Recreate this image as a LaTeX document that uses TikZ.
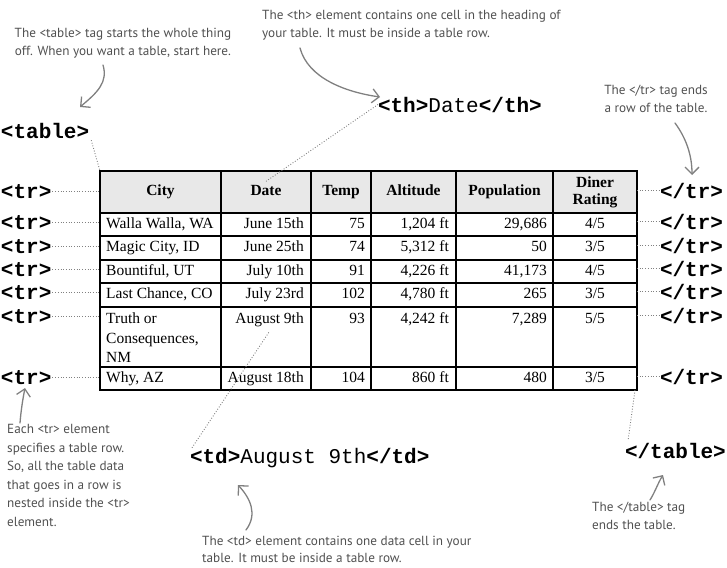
\documentclass[tikz,border=0pt]{standalone}
\usepackage{fontspec}
\setmainfont{Liberation Serif}
\newfontfamily\tagfont{Liberation Mono}
\newfontfamily\handfont{PT Sans}
\usetikzlibrary{arrows.meta}
\definecolor{handtext}{HTML}{505050}
\definecolor{arrowgray}{HTML}{808080}
\definecolor{headfill}{HTML}{E8E8E8}
\begin{document}
\begin{tikzpicture}[x=1pt,y=-1pt,
  tagl/.style={font=\tagfont\bfseries\fontsize{21}{21}\selectfont, inner sep=0pt, outer sep=0pt, anchor=base west},
  tagmix/.style={font=\tagfont\fontsize{21}{21}\selectfont, inner sep=0pt, outer sep=0pt, anchor=base west},
  note/.style={font=\handfont\fontsize{13.2}{17.5}\selectfont, text=handtext, inner sep=0pt, align=left},
  handarrow/.style={draw=arrowgray, line width=1.3pt, line cap=round, -{Straight Barb[length=7pt,width=14pt,line width=1.3pt]}},
  leader/.style={draw=gray, line width=0.9pt, dash pattern=on 0.9pt off 1.8pt},
  cell/.style={font=\fontsize{15.5}{19.5}\selectfont, inner sep=0pt, text height=10pt, text depth=3pt},
  head/.style={font=\bfseries\fontsize{15.5}{17}\selectfont, inner sep=0pt, text height=10pt, text depth=3pt},
  headml/.style={font=\bfseries\fontsize{15.5}{17}\selectfont, inner sep=0pt, align=center},
  grid/.style={line width=1.8pt, draw=black}
]
\useasboundingbox (0,0) rectangle (727,567);

% ---- table ----
\fill[headfill] (100,171) rectangle (637,213);
\foreach \yy in {213,236,260,283,307,367} \draw[grid] (100,\yy) -- (637,\yy);
\foreach \xx in {221,311,371,456,553} \draw[grid] (\xx,171) -- (\xx,390);
\node[grid, draw, minimum width=537pt, minimum height=219pt, inner sep=0pt, outer sep=0pt, anchor=north west] (tbl) at (100,171) {};

% header
\node[head] (hCity) at (160.5,192) {City};
\node[head] (hDate) at (266,192) {Date};
\node[head] (hTemp) at (341,192) {Temp};
\node[head] (hAlt) at (413.5,192) {Altitude};
\node[head] (hPop) at (504.5,192) {Population};
\node[headml] (hRate) at (595,192) {Diner\\Rating};

% rows
\node[cell, anchor=west] (c1) at (106,224.5) {Walla Walla, WA};
\node[cell, anchor=east] (d1) at (304,224.5) {June 15th};
\node[cell, anchor=east] (t1) at (365,224.5) {75};
\node[cell, anchor=east] (a1) at (449,224.5) {1,204 ft};
\node[cell, anchor=east] (p1) at (547,224.5) {29,686};
\node[cell] (r1) at (595,224.5) {4/5};

\node[cell, anchor=west] (c2) at (106,248) {Magic City, ID};
\node[cell, anchor=east] (d2) at (304,248) {June 25th};
\node[cell, anchor=east] (t2) at (365,248) {74};
\node[cell, anchor=east] (a2) at (449,248) {5,312 ft};
\node[cell, anchor=east] (p2) at (547,248) {50};
\node[cell] (r2) at (595,248) {3/5};

\node[cell, anchor=west] (c3) at (106,271.5) {Bountiful, UT};
\node[cell, anchor=east] (d3) at (304,271.5) {July 10th};
\node[cell, anchor=east] (t3) at (365,271.5) {91};
\node[cell, anchor=east] (a3) at (449,271.5) {4,226 ft};
\node[cell, anchor=east] (p3) at (547,271.5) {41,173};
\node[cell] (r3) at (595,271.5) {4/5};

\node[cell, anchor=west] (c4) at (106,295) {Last Chance, CO};
\node[cell, anchor=east] (d4) at (304,295) {July 23rd};
\node[cell, anchor=east] (t4) at (365,295) {102};
\node[cell, anchor=east] (a4) at (449,295) {4,780 ft};
\node[cell, anchor=east] (p4) at (547,295) {265};
\node[cell] (r4) at (595,295) {3/5};

\node[font=\fontsize{15.5}{19.5}\selectfont, inner sep=0pt, align=left, anchor=north west] (c5) at (106,313) {Truth or\\Consequences,\\NM};
\node[cell, anchor=east] (d5) at (304,319.5) {August 9th};
\node[cell, anchor=east] (t5) at (365,319.5) {93};
\node[cell, anchor=east] (a5) at (449,319.5) {4,242 ft};
\node[cell, anchor=east] (p5) at (547,319.5) {7,289};
\node[cell] (r5) at (595,319.5) {5/5};

\node[cell, anchor=west] (c6) at (106,378.5) {Why, AZ};
\node[cell, anchor=east] (d6) at (304,378.5) {August 18th};
\node[cell, anchor=east] (t6) at (365,378.5) {104};
\node[cell, anchor=east] (a6) at (449,378.5) {860 ft};
\node[cell, anchor=east] (p6) at (547,378.5) {480};
\node[cell] (r6) at (595,378.5) {3/5};

% ---- tags ----
\node[tagl] (tableTag) at (1,138) {<table>};
\node[tagl] (endTable) at (625,458) {</table>};
\node[tagmix] (thTag) at (378,112) {{\bfseries <th>}Date{\bfseries </th>}};
\node[tagmix] (tdTag) at (190,463) {{\bfseries <td>}August 9th{\bfseries </td>}};

\foreach \i/\b in {1/198,2/229,3/253,4/276,5/299,6/323,7/384}{
  \node[tagl] (trL\i) at (1,\b) {<tr>};
  \node[tagl] (trR\i) at (660,\b) {</tr>};
  \draw[leader] ([xshift=1pt]trL\i.east) -- (trL\i.east -| tbl.west);
  \draw[leader] (tbl.east |- trR\i.west) -- ([xshift=-1pt]trR\i.west);
}

% dotted pointers
\draw[leader] ([xshift=2pt,yshift=-2pt]tableTag.south east) -- (tbl.north west);
\draw[leader] (thTag.west) -- ([yshift=4pt]hDate.north);
\draw[leader] ([xshift=2pt]tdTag.north west) -- ([yshift=-5pt]d5.south);
\draw[leader] ([xshift=-2pt]tbl.south east) -- ([xshift=3pt,yshift=2pt]endTable.north west);

% ---- notes ----
\node[note, align=center, anchor=north] (n1) at (123,28) {The <table> tag starts the whole thing\\off. When you want a table, start here.};
\node[note, anchor=north west] (n2) at (262,10) {The <th> element contains one cell in the heading of\\your table. It must be inside a table row.};
\node[note, align=center, anchor=north] (n3) at (656,85) {The </tr> tag ends\\a row of the table.};
\node[note, anchor=north west, font=\handfont\fontsize{13.2}{18.6}\selectfont] (n4) at (7,424) {Each <tr> element\\specifies a table row.\\So, all the table data\\that goes in a row is\\nested inside the <tr>\\element.};
\node[note, anchor=north west, font=\handfont\fontsize{13.2}{17}\selectfont] (n5) at (202,535.5) {The <td> element contains one data cell in your\\table. It must be inside a table row.};
\node[note, anchor=north west] (n6) at (592,502) {The </table> tag\\ends the table.};

% ---- hand arrows ----
\coordinate (a1s) at (103,65);  \coordinate (a1e) at (80,107);
\coordinate (a2s) at (300,48);  \coordinate (a2e) at (380,97);
\coordinate (a3s) at (675,123); \coordinate (a3e) at (692,175);
\coordinate (a4s) at (20,423);  \coordinate (a4e) at (25,388);
\coordinate (a5s) at (246,530); \coordinate (a5e) at (238,485);
\coordinate (a6s) at (650,500); \coordinate (a6e) at (663,475);
\draw[handarrow] (a1s) .. controls (108,82) and (98,92) .. (a1e);
\draw[handarrow] (a2s) .. controls (308,78) and (345,92) .. (a2e);
\draw[handarrow] (a3s) .. controls (686,138) and (692,155) .. (a3e);
\draw[handarrow] (a4s) .. controls (21,410) and (23,398) .. (a4e);
\draw[handarrow] (a5s) .. controls (258,514) and (250,498) .. (a5e);
\draw[handarrow] (a6s) .. controls (655,492) and (658,483) .. (a6e);
\end{tikzpicture}
\end{document}
